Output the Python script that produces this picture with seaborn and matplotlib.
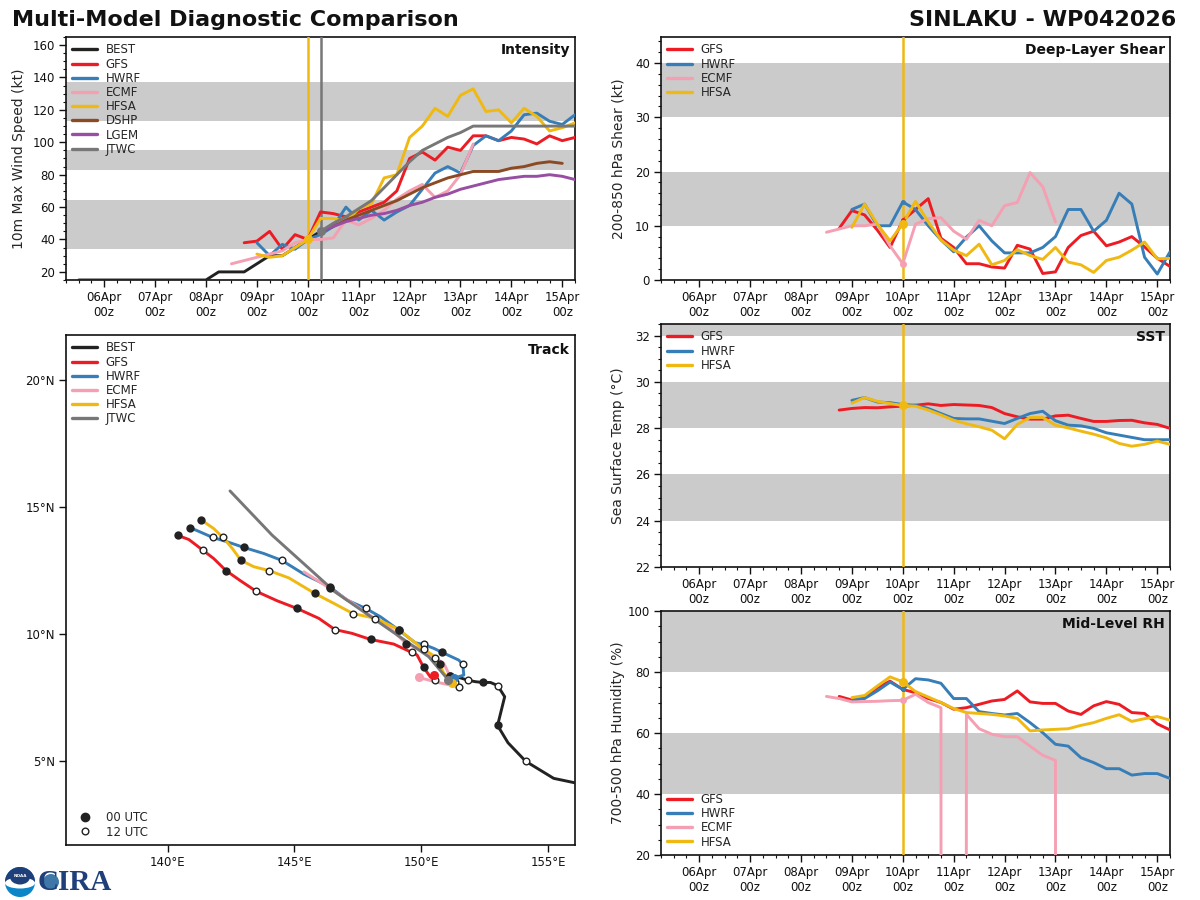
import matplotlib
matplotlib.use('Agg')
import matplotlib.pyplot as plt
import matplotlib.dates as mdates
from matplotlib.lines import Line2D
from matplotlib.patches import Circle, Wedge, Ellipse
from matplotlib.ticker import MultipleLocator
import pandas as pd
import seaborn as sns

sns.set_theme(style='ticks')
plt.rcParams['font.family'] = ['DejaVu Sans']

# Start time of each series (6 hourly values)
T_BEST = '2026-04-05 12:00'
T_LATE = '2026-04-10 06:00'
T_GFS = '2026-04-08 18:00'
T_ECMF = '2026-04-08 12:00'
T_HW = '2026-04-09 00:00'
INIT = pd.Timestamp('2026-04-10 00:00')
INIT_JTWC = pd.Timestamp('2026-04-10 06:00')

# Intensity (kt)
best_vmax = [15, 15, 15, 15, 15, 15, 15, 15, 15, 15, 15, 20, 20, 20, 25, 30, 30, 35, 40, 45]
gfs_vmax = [38, 39, 45, 34, 43, 40, 57, 56, 54, 57, 60, 63, 70, 90, 94, 89, 97, 95, 104, 104, 101, 103, 102, 99, 104, 101, 103]
hwrf_vmax = [38, 30, 37, 34, 40, 43, 48, 60, 52, 58, 52, 57, 61, 71, 81, 85, 81, 98, 104, 101, 107, 117, 118, 113, 111, 117]
ecmf_vmax = [25, 27, 29, 31, 33, 38, 40, 40, 41, 52, 49, 53, 58, 65, 70, 74, 66, 70, 80, 99]
hfsa_vmax = [31, 29, 30, 35, 40, 53, 53, 51, 59, 62, 78, 80, 103, 110, 121, 116, 129, 133, 119, 120, 112, 121, 116, 107, 109, 112]
dshp_vmax = [45, 48, 52, 55, 58, 61, 64, 68, 72, 75, 78, 80, 82, 82, 82, 84, 85, 87, 88, 87]
lgem_vmax = [45, 48, 51, 53, 55, 56, 58, 61, 63, 66, 68, 71, 73, 75, 77, 78, 79, 79, 80, 79, 77]
jtwc_vmax = [45, 50, 54, 59, 64, 72, 80, 88, 95, 99, 103, 106, 110, 110, 110, 110, 110, 110, 110, 110, 110]

# Deep-layer shear (kt)
gfs_shear = [9.5, 12.8, 12, 9.2, 6, 11, 13, 15, 7.7, 6, 3, 3, 2.4, 2.2, 6.4, 5.7, 1.2, 1.5, 6, 8.2, 9, 6.3, 7, 8, 6.1, 4, 2.5]
hwrf_shear = [13, 14, 10, 10, 14.4, 13, 10, 7.4, 5.2, 7.9, 10, 7.2, 5, 5, 5, 6, 8, 13, 13, 9, 11, 16, 14, 4.2, 1.1, 5.2]
ecmf_shear = [8.8, 9.4, 10, 10, 10.3, 6.3, 3, 10.3, 11.3, 11.5, 9, 7.5, 11, 10, 13.7, 14.3, 19.8, 17.2, 10.7]
hfsa_shear = [9.7, 14, 10.3, 7.2, 10.4, 14.5, 10.7, 7.4, 5.5, 4.5, 6.6, 2.8, 3.6, 5.6, 4.5, 3.8, 6, 3.3, 2.8, 1.4, 3.6, 4.2, 5.5, 7, 3.9, 4]

# Sea surface temperature (C)
gfs_sst = [28.78, 28.85, 28.89, 28.88, 28.92, 28.95, 28.99, 29.05, 28.98, 29.02, 29.0, 28.98, 28.89, 28.63, 28.49, 28.39, 28.39, 28.53, 28.56, 28.42, 28.29, 28.29, 28.33, 28.34, 28.23, 28.16, 27.99]
hwrf_sst = [29.2, 29.32, 29.13, 29.1, 29.02, 28.99, 28.85, 28.63, 28.42, 28.4, 28.4, 28.3, 28.2, 28.42, 28.63, 28.73, 28.32, 28.13, 28.1, 27.99, 27.8, 27.7, 27.6, 27.5, 27.5, 27.5]
hfsa_sst = [29.08, 29.32, 29.16, 29.06, 28.98, 28.95, 28.78, 28.57, 28.34, 28.19, 28.06, 27.91, 27.54, 28.16, 28.46, 28.46, 28.13, 28.01, 27.87, 27.74, 27.58, 27.34, 27.22, 27.3, 27.44, 27.3]

# Mid-level RH (%), -9999 is the missing value in the ECMF file
gfs_rh = [72, 70.8, 71.6, 74.9, 77, 74.3, 73.2, 71.3, 70, 67.8, 68.3, 69.4, 70.5, 71, 73.8, 70.2, 69.7, 69.7, 67.2, 66.1, 68.9, 70.3, 69.4, 66.7, 66.4, 63, 61]
hwrf_rh = [70.8, 71.3, 73.8, 76.7, 74.3, 77.8, 77.4, 76.3, 71.3, 71.3, 67, 66.4, 65.9, 66.4, 63.4, 60.1, 56.3, 55.7, 51.9, 50.3, 48.3, 48.3, 46.2, 46.7, 46.7, 45.1]
ecmf_rh = [72, 71.3, 70.2, 70.3, 70.4, 70.6, 70.7, 72.7, 70, 68.3, -9999, 66.1, 61.4, 59.6, 58.8, 58.8, 55.7, 52.7, 51, -9999]
hfsa_rh = [71.6, 72.3, 75.4, 78.4, 76.8, 73.6, 71.8, 70, 68, 66.7, 66.4, 66.1, 65.6, 64.8, 60.7, 61, 61.2, 61.4, 62.5, 63.4, 64.8, 66, 63.8, 64.7, 65.4, 64.2]

# Tracks, 6 hourly
best_lon = [156.5, 155.21, 154.11, 153.41, 153.0, 153.28, 153.0, 152.72, 152.41, 152.13, 151.82, 151.54, 151.12, 151.0]
best_lat = [4.05, 4.32, 4.99, 5.72, 6.4, 7.53, 7.97, 8.09, 8.09, 8.12, 8.18, 8.27, 8.35, 8.18]
gfs_lon = [150.49, 150.6, 150.52, 150.35, 150.09, 149.83, 149.62, 148.91, 148.0, 147.27, 146.59, 145.96, 145.1, 144.32, 143.5, 142.87, 142.3, 141.82, 141.39, 140.84, 140.41]
gfs_lat = [8.38, 8.25, 8.18, 8.31, 8.68, 9.17, 9.27, 9.6, 9.78, 10.02, 10.17, 10.61, 11.0, 11.3, 11.67, 12.09, 12.49, 12.96, 13.29, 13.71, 13.87]
hwrf_lon = [151.27, 151.67, 151.63, 151.47, 150.8, 150.49, 150.09, 149.76, 149.11, 148.39, 147.81, 147.07, 146.39, 145.37, 144.5, 143.79, 143.0, 142.35, 141.78, 141.3, 140.88]
hwrf_lat = [8.25, 8.38, 8.8, 8.97, 9.28, 9.43, 9.585, 9.65, 10.15, 10.67, 11.0, 11.33, 11.85, 12.35, 12.89, 13.16, 13.4, 13.62, 13.79, 14.0, 14.18]
ecmf_lon = [149.89, 150.6, 151.47, 151.4, 151.12, 150.88, 150.52, 150.0, 149.41, 148.8, 148.19, 147.3, 146.39, 145.37]
ecmf_lat = [8.29, 8.1, 7.92, 8.1, 8.35, 8.84, 9.07, 9.4, 9.6, 10.2, 10.58, 11.2, 11.79, 12.44]
hfsa_lon = [151.2, 151.28, 151.31, 150.88, 150.72, 150.55, 150.09, 149.63, 149.11, 148.19, 147.3, 146.55, 145.8, 144.78, 143.99, 143.4, 142.89, 142.55, 142.18, 141.82, 141.31]
hfsa_lat = [8.05, 8.05, 8.09, 8.45, 8.8, 9.1, 9.39, 9.75, 10.17, 10.61, 10.8, 11.2, 11.59, 12.2, 12.49, 12.64, 12.89, 13.36, 13.79, 14.14, 14.49]
jtwc_lon = [151.05, 150.29, 148.39, 146.6, 144.12, 142.46]
jtwc_lat = [8.2, 9.1, 10.41, 11.65, 13.88, 15.62]

COL = {'BEST': '#222222', 'GFS': '#ed1c24', 'HWRF': '#377eb8', 'ECMF': '#f4a0b2',
       'HFSA': '#f0b912', 'DSHP': '#8c4a24', 'LGEM': '#984ea3', 'JTWC': '#777777'}
DOT = {'BEST': 0, 'GFS': 3.5, 'HWRF': 3.5, 'ECMF': 5, 'HFSA': 6.5, 'JTWC': 6.5}
BAND = '#cbcbcb'
LW = 2.1
LEG = dict(frameon=False, fontsize=8.5, handlelength=2.1, labelspacing=0.1,
           handletextpad=0.7, borderaxespad=0.3, borderpad=0.25)


def make_ax(l, t, r, b):
    return fig.add_axes([l / 1200, 1 - b / 900, (r - l) / 1200, (b - t) / 900])


def time_panel(ax, ylim, yticks, yminor, bands):
    for lo, hi in bands:
        ax.axhspan(lo, hi, color=BAND, lw=0, zorder=0)
    ax.set_xlim(pd.Timestamp('2026-04-05 06:00'), pd.Timestamp('2026-04-15 06:00'))
    ax.set_ylim(*ylim)
    ax.set_yticks(yticks)
    ax.yaxis.set_minor_locator(MultipleLocator(yminor))
    ax.xaxis.set_major_locator(mdates.HourLocator(byhour=[0]))
    ax.xaxis.set_major_formatter(mdates.DateFormatter('%d%b\n%Hz'))
    ax.xaxis.set_minor_locator(mdates.HourLocator(byhour=[6, 12, 18]))
    ax.tick_params(axis='both', which='major', labelsize=8.5, length=5, width=1, colors='#111111', pad=3)
    ax.tick_params(axis='both', which='minor', length=2.5, width=0.8, colors='#111111')


def finish_panel(ax, ylabel, name, xlab):
    ax.set_xlabel('')
    ax.set_ylabel(ylabel, fontsize=10)
    ax.yaxis.set_label_coords(xlab, 0.5)
    ax.text(0.99, 0.975, name, transform=ax.transAxes, ha='right', va='top', fontsize=10, fontweight='bold', color='#111111', zorder=9)


def draw_series(ax, label, start, values, init=INIT):
    times = pd.date_range(start, periods=len(values), freq='6h')
    sns.lineplot(x=times, y=values, color=COL[label], lw=LW, ax=ax, estimator=None, legend=False, zorder=4)
    if init in times and DOT.get(label, 0) > 0:
        ax.plot([init], [values[times.get_loc(init)]], 'o', color=COL[label], ms=DOT[label], mew=0, zorder=5)


def legend(ax, labels, loc='upper left'):
    handles = [Line2D([], [], color=COL[n], lw=2.4) for n in labels]
    ax.legend(handles, labels, loc=loc, **LEG).set_zorder(8)


fig = plt.figure(figsize=(12, 9), dpi=100)

# Intensity
ax1 = make_ax(66, 37, 575, 280)
time_panel(ax1, (15, 165), range(20, 161, 20), 5, [(34, 64.5), (83, 95), (113, 137)])
ax1.axvline(INIT, color=COL['HFSA'], lw=1.8, zorder=3)
ax1.axvline(INIT_JTWC, color=COL['JTWC'], lw=1.8, zorder=3)
draw_series(ax1, 'BEST', T_BEST, best_vmax, None)
draw_series(ax1, 'GFS', T_GFS, gfs_vmax, None)
draw_series(ax1, 'HWRF', T_HW, hwrf_vmax, None)
draw_series(ax1, 'ECMF', T_ECMF, ecmf_vmax, None)
draw_series(ax1, 'HFSA', T_HW, hfsa_vmax)
draw_series(ax1, 'DSHP', T_LATE, dshp_vmax, None)
draw_series(ax1, 'LGEM', T_LATE, lgem_vmax, None)
draw_series(ax1, 'JTWC', T_LATE, jtwc_vmax, INIT_JTWC)
legend(ax1, ['BEST', 'GFS', 'HWRF', 'ECMF', 'HFSA', 'DSHP', 'LGEM', 'JTWC'])
finish_panel(ax1, '10m Max Wind Speed (kt)', 'Intensity', (26 - 66) / 509)

# Shear
ax2 = make_ax(661, 37, 1170, 280)
time_panel(ax2, (0, 44.8), range(0, 41, 10), 2, [(10, 20), (30, 40)])
ax2.axvline(INIT, color=COL['HFSA'], lw=1.8, zorder=3)
draw_series(ax2, 'GFS', T_GFS, gfs_shear)
draw_series(ax2, 'HWRF', T_HW, hwrf_shear)
draw_series(ax2, 'ECMF', T_ECMF, ecmf_shear)
draw_series(ax2, 'HFSA', T_HW, hfsa_shear)
legend(ax2, ['GFS', 'HWRF', 'ECMF', 'HFSA'])
finish_panel(ax2, '200-850 hPa Shear (kt)', 'Deep-Layer Shear', (625 - 661) / 509)

# SST
ax3 = make_ax(661, 324, 1170, 567)
time_panel(ax3, (22, 32.5), range(22, 33, 2), 0.5, [(24, 26), (28, 30), (32, 34)])
ax3.axvline(INIT, color=COL['HFSA'], lw=1.8, zorder=3)
draw_series(ax3, 'GFS', T_GFS, gfs_sst)
draw_series(ax3, 'HWRF', T_HW, hwrf_sst)
draw_series(ax3, 'HFSA', T_HW, hfsa_sst)
legend(ax3, ['GFS', 'HWRF', 'HFSA'])
finish_panel(ax3, 'Sea Surface Temp (°C)', 'SST', (625 - 661) / 509)

# RH
ax4 = make_ax(661, 611, 1170, 855)
time_panel(ax4, (20, 100), range(20, 101, 20), 5, [(40, 60), (80, 100)])
ax4.axvline(INIT, color=COL['HFSA'], lw=1.8, zorder=3)
draw_series(ax4, 'GFS', T_GFS, gfs_rh)
draw_series(ax4, 'HWRF', T_HW, hwrf_rh)
draw_series(ax4, 'ECMF', T_ECMF, ecmf_rh)
draw_series(ax4, 'HFSA', T_HW, hfsa_rh)
legend(ax4, ['GFS', 'HWRF', 'ECMF', 'HFSA'], loc='lower left')
finish_panel(ax4, '700-500 hPa Humidity (%)', 'Mid-Level RH', (625 - 661) / 509)

# Track
ax5 = make_ax(66, 335, 575, 845)
ax5.set_xlim(136, 156.05)
ax5.set_ylim(1.7, 21.75)
tracks = [('BEST', best_lon, best_lat), ('GFS', gfs_lon, gfs_lat), ('HWRF', hwrf_lon, hwrf_lat),
          ('ECMF', ecmf_lon, ecmf_lat), ('HFSA', hfsa_lon, hfsa_lat), ('JTWC', jtwc_lon, jtwc_lat)]
for name, lon, lat in tracks:
    sns.lineplot(x=lon, y=lat, sort=False, estimator=None, color=COL[name], lw=LW, ax=ax5, legend=False, zorder=4)
    if name == 'JTWC':
        ax5.plot(lon[0], lat[0], 'o', color=COL[name], ms=6.5, mew=0, zorder=7)
        continue
    if name == 'BEST':
        # oldest first, last fix is 06z, 00z fixes count back from the second to last one
        idx = len(lon) - 2
        m00 = [i for i in range(len(lon)) if (idx - i) % 4 == 0]
        m12 = [i for i in range(len(lon)) if (idx - i) % 4 == 2]
    else:
        m00 = [i for i in range(len(lon)) if i % 4 == 0 and i > 0]
        m12 = [i for i in range(len(lon)) if i % 4 == 2]
        ax5.plot(lon[0], lat[0], 'o', color=COL[name], ms=6.5, mew=0, zorder=6)
    ax5.plot([lon[i] for i in m00], [lat[i] for i in m00], 'o', color='#222222', ms=6, mew=0, zorder=5)
    ax5.plot([lon[i] for i in m12], [lat[i] for i in m12], 'o', mfc='white', mec='#222222', ms=4.8, mew=1, zorder=5)
ax5.set_xticks([140, 145, 150, 155])
ax5.set_xticklabels(['140°E', '145°E', '150°E', '155°E'])
ax5.set_yticks([5, 10, 15, 20])
ax5.set_yticklabels(['5°N', '10°N', '15°N', '20°N'])
ax5.tick_params(axis='both', which='major', labelsize=8.5, length=5, width=1, colors='#111111', pad=3)
ax5.text(0.99, 0.985, 'Track', transform=ax5.transAxes, ha='right', va='top', fontsize=10, fontweight='bold', color='#111111')
first = ax5.legend([Line2D([], [], color=COL[n], lw=2.4) for n in ['BEST', 'GFS', 'HWRF', 'ECMF', 'HFSA', 'JTWC']],
                   ['BEST', 'GFS', 'HWRF', 'ECMF', 'HFSA', 'JTWC'], loc='upper left', **LEG)
ax5.add_artist(first)
ax5.legend([Line2D([], [], ls='', marker='o', color='#222222', ms=6),
            Line2D([], [], ls='', marker='o', mfc='white', mec='#222222', ms=4.8)],
           ['00 UTC', '12 UTC'], loc='lower left', **LEG)

for ax in [ax1, ax2, ax3, ax4, ax5]:
    for s in ax.spines.values():
        s.set_visible(True)
        s.set_linewidth(1.2)
        s.set_color('#111111')

# Titles
fig.text(12 / 1200, 1 - 20 / 900, 'Multi-Model Diagnostic Comparison', fontsize=16, fontweight='bold', va='center', ha='left', color='#111111')
fig.text(1176 / 1200, 1 - 20 / 900, 'SINLAKU - WP042026', fontsize=16, fontweight='bold', va='center', ha='right', color='#111111')

# Logo
logo = fig.add_axes([0, 0, 120 / 1200, 40 / 900])
logo.set_xlim(0, 120)
logo.set_ylim(40, 0)
logo.axis('off')
logo.add_patch(Circle((20, 22), 15, color='#0a85c7', lw=0))
logo.add_patch(Wedge((20, 22), 15, 180, 360, color='#1f3f7a', lw=0))
logo.add_patch(Ellipse((20, 23), 30, 11, color='white', lw=0))
logo.add_patch(Ellipse((20, 17), 20, 15, color='#1f3f7a', lw=0))
logo.text(20, 16, 'NOAA', color='white', fontsize=3, ha='center', va='center', fontweight='bold')
logo.add_patch(Circle((51, 22), 8, color='#3f78a8', lw=0))
logo.text(75, 23, 'CIRA', color='#1f3f7a', fontsize=21, family='Liberation Serif', fontweight='bold', ha='center', va='center')

fig.savefig('out.png', dpi=100)
